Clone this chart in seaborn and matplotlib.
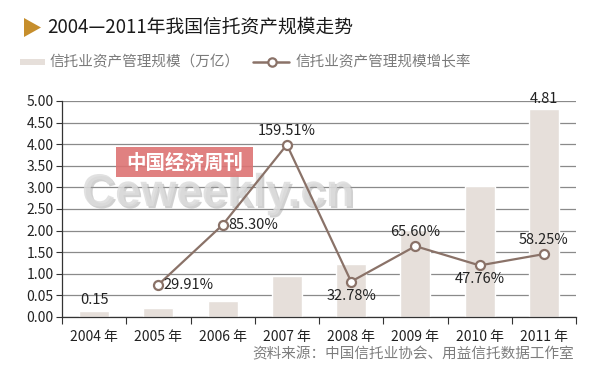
import matplotlib
matplotlib.use("Agg")
import matplotlib.pyplot as plt
import matplotlib.patheffects as pe
import seaborn as sns
import pandas as pd
from matplotlib.patches import Rectangle, Polygon
from matplotlib.lines import Line2D

# ---- data ----
years = ["2004 年", "2005 年", "2006 年", "2007 年", "2008 年", "2009 年", "2010 年", "2011 年"]
scale = [0.15, 0.20, 0.36, 0.95, 1.22, 2.02, 3.04, 4.81]          # 万亿
growth_years = ["2005 年", "2006 年", "2007 年", "2008 年", "2009 年", "2010 年", "2011 年"]
growth = [29.91, 85.30, 159.51, 32.78, 65.60, 47.76, 58.25]        # %
ytick_values = [0.0, 0.5, 1.0, 1.5, 2.0, 2.5, 3.0, 3.5, 4.0, 4.5, 5.0]
ytick_labels = ["0.00", "0.05", "1.00", "1.50", "2.00", "2.50", "3.00", "3.50", "4.00", "4.50", "5.00"]
title = "2004—2011年我国信托资产规模走势"
legend_bar = "信托业资产管理规模（万亿）"
legend_line = "信托业资产管理规模增长率"
source = "资料来源：中国信托业协会、用益信托数据工作室"
watermark_en = "Ceweekly.cn"
watermark_cn = "中国经济周刊"

sns.set_theme(style="white")
plt.rcParams["font.family"] = ["Noto Sans CJK SC", "DejaVu Sans"]

BAR = "#E6DFDA"
LINE = "#8A7268"
GRID = "#8a8a8a"
TXT = "#222222"

fig = plt.figure(figsize=(6.10, 3.84), dpi=100)
ax = fig.add_axes([62 / 610, 1 - 317 / 384, (576 - 62) / 610, (317 - 101) / 384])

df = pd.DataFrame({"year": years, "scale": scale})
sns.barplot(data=df, x="year", y="scale", order=years, color=BAR, width=0.47,
            saturation=1, ax=ax, zorder=2)
ax.set_xlim(-0.5, len(years) - 0.5)
ax.set_ylim(0, 5.0)
ax.set_yticks(ytick_values)
ax.set_yticklabels(ytick_labels)
ax.set_xlabel("")
ax.set_ylabel("")
ax.yaxis.grid(True, color=GRID, linewidth=0.9, zorder=0)
ax.set_axisbelow(True)
for s in ["top", "right"]:
    ax.spines[s].set_visible(False)
for s in ["left", "bottom"]:
    ax.spines[s].set_color("#333333")
    ax.spines[s].set_linewidth(0.9)
ax.tick_params(axis="y", which="both", left=True, length=4, width=0.8, color="#333333",
               labelsize=10, labelcolor=TXT, pad=2)
ax.set_xticks(range(len(years)))
ax.set_xticklabels(years)
ax.tick_params(axis="x", which="major", bottom=False, labelsize=10, labelcolor=TXT, pad=3)
ax.set_xticks([i - 0.5 for i in range(len(years) + 1)], minor=True)
ax.tick_params(axis="x", which="minor", bottom=True, length=5, width=0.8, color="#333333")

for i in (0, len(years) - 1):
    ax.text(i, scale[i] + 0.08, f"{scale[i]:.2f}", ha="center", va="bottom",
            fontsize=10.5, color=TXT, zorder=5)

# growth line on hidden secondary axis
ax2 = ax.twinx()
gx = [years.index(y) for y in growth_years]
sns.lineplot(x=gx, y=growth, ax=ax2, color=LINE, linewidth=1.6, marker="o",
             markersize=6.5, markerfacecolor="white", markeredgecolor=LINE,
             markeredgewidth=1.6, zorder=4)
ax2.set_ylim(0, 200)
ax2.set_yticks([])
ax2.set_ylabel("")
for s in ax2.spines.values():
    s.set_visible(False)
ax2.set_xlim(-0.5, len(years) - 0.5)

placements = ["right", "right", "above", "below", "above", "below", "above"]
for x, v, p in zip(gx, growth, placements):
    lab = f"{v:.2f}%"
    if p == "right":
        ax2.annotate(lab, (x, v), xytext=(4, 0), textcoords="offset points",
                     ha="left", va="center", fontsize=10.5, color=TXT, zorder=5)
    elif p == "above":
        ax2.annotate(lab, (x, v), xytext=(0, 5), textcoords="offset points",
                     ha="center", va="bottom", fontsize=10.5, color=TXT, zorder=5)
    else:
        ax2.annotate(lab, (x, v), xytext=(0, -5), textcoords="offset points",
                     ha="center", va="top", fontsize=10.5, color=TXT, zorder=5)

# watermark (under the line, over bars/grid)
ax2.text(82 / 610, 1 - 206 / 384, watermark_en, transform=fig.transFigure,
         fontsize=33, color="#dcdcdc", family="Liberation Sans", fontweight="bold",
         ha="left", va="baseline", alpha=0.85, zorder=1,
         path_effects=[pe.withSimplePatchShadow(offset=(1.5, -1.5), shadow_rgbFace="#9a9a9a",
                                                alpha=0.45)])
ax2.add_patch(Rectangle((116 / 610, 1 - 177 / 384), 137 / 610, 30 / 384,
                        transform=fig.transFigure, facecolor="#dd7373",
                        edgecolor="none", alpha=0.9, zorder=1.5))
ax2.text(185 / 610, 1 - 163 / 384, watermark_cn, transform=fig.transFigure,
         fontsize=14, color="white", fontweight="bold",
         ha="center", va="center", zorder=2)

# title
tri = Polygon([(24 / 610, 1 - 18 / 384), (24 / 610, 1 - 37 / 384), (41 / 610, 1 - 27.5 / 384)],
              closed=True, transform=fig.transFigure, facecolor="#C68E2C", edgecolor="none")
fig.patches.append(tri)
fig.text(47 / 610, 1 - 27 / 384, title, fontsize=13.5, color="#1a1a1a",
         ha="left", va="center")

# legend
fig.patches.append(Rectangle((20 / 610, 1 - 65 / 384), 25 / 610, 6 / 384,
                             transform=fig.transFigure, facecolor=BAR, edgecolor="none"))
fig.text(50 / 610, 1 - 62 / 384, legend_bar, fontsize=10.5, color="#7a7a7a",
         ha="left", va="center")
fig.lines.append(Line2D([253 / 610, 289 / 610], [1 - 62 / 384, 1 - 62 / 384],
                        transform=fig.transFigure, color=LINE, linewidth=1.8))
fig.lines.append(Line2D([272 / 610], [1 - 62 / 384], transform=fig.transFigure,
                        color=LINE, marker="o", markersize=6, markerfacecolor="white",
                        markeredgecolor=LINE, markeredgewidth=1.6, linestyle="none"))
fig.text(295 / 610, 1 - 62 / 384, legend_line, fontsize=10.5, color="#7a7a7a",
         ha="left", va="center")

# source
fig.text(574 / 610, 1 - 354 / 384, source, fontsize=10.5, color="#7d7d7d",
         ha="right", va="center")

fig.savefig("out.png", dpi=100)
